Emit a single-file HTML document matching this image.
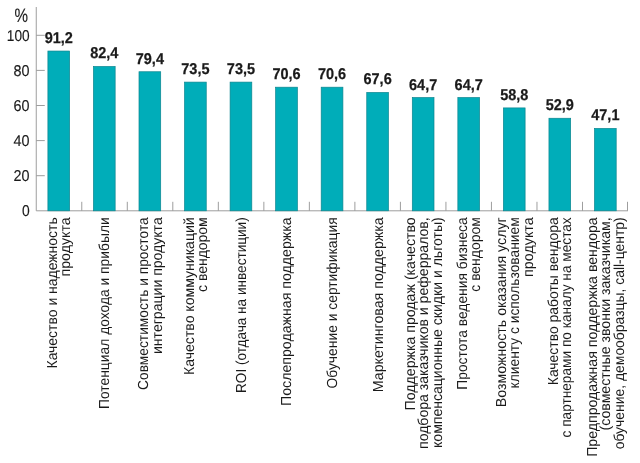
<!DOCTYPE html><html><head><meta charset="utf-8"><style>html,body{margin:0;padding:0;background:#fff}svg{display:block;will-change:transform}text{font-family:"Liberation Sans",sans-serif;fill:#1a1a1a;text-rendering:geometricPrecision}</style></head><body>
<svg width="640" height="463" viewBox="0 0 640 463">
<rect width="640" height="463" fill="#fff"/>
<g stroke="#999" stroke-width="0.95" fill="none">
<path d="M36.25 7V210.8H627.9"/>
<path d="M36.25 175.70h8.5"/>
<path d="M36.25 140.60h8.5"/>
<path d="M36.25 105.50h8.5"/>
<path d="M36.25 70.40h8.5"/>
<path d="M36.25 35.30h8.5"/>
<path d="M81.77 210.8v-9"/>
<path d="M127.29 210.8v-9"/>
<path d="M172.81 210.8v-9"/>
<path d="M218.33 210.8v-9"/>
<path d="M263.85 210.8v-9"/>
<path d="M309.37 210.8v-9"/>
<path d="M354.89 210.8v-9"/>
<path d="M400.41 210.8v-9"/>
<path d="M445.93 210.8v-9"/>
<path d="M491.45 210.8v-9"/>
<path d="M536.97 210.8v-9"/>
<path d="M582.49 210.8v-9"/>
<path d="M627.50 210.8v-9"/>
</g>
<g font-size="15.6" text-anchor="end" stroke="#1a1a1a" stroke-width="0.15">
<text x="29.6" y="216.10" textLength="7.7" lengthAdjust="spacingAndGlyphs">0</text>
<text x="29.6" y="181.00" textLength="16.0" lengthAdjust="spacingAndGlyphs">20</text>
<text x="29.6" y="145.90" textLength="16.0" lengthAdjust="spacingAndGlyphs">40</text>
<text x="29.6" y="110.80" textLength="16.0" lengthAdjust="spacingAndGlyphs">60</text>
<text x="29.6" y="75.70" textLength="16.0" lengthAdjust="spacingAndGlyphs">80</text>
<text x="29.6" y="40.60" textLength="22.8" lengthAdjust="spacingAndGlyphs">100</text>
<text x="28.1" y="21.6" font-size="19.4" textLength="13.5" lengthAdjust="spacingAndGlyphs">%</text>
</g>
<rect x="47.90" y="51.04" width="21.7" height="159.76" fill="#00adb9" stroke="#0b858f" stroke-width="0.7"/>
<text x="58.75" y="43.04" font-size="15.6" font-weight="bold" text-anchor="middle" textLength="28.2" lengthAdjust="spacingAndGlyphs" stroke="#1a1a1a" stroke-width="0.25">91,2</text>
<rect x="93.45" y="66.49" width="21.7" height="144.31" fill="#00adb9" stroke="#0b858f" stroke-width="0.7"/>
<text x="104.30" y="58.49" font-size="15.6" font-weight="bold" text-anchor="middle" textLength="28.2" lengthAdjust="spacingAndGlyphs" stroke="#1a1a1a" stroke-width="0.25">82,4</text>
<rect x="139.00" y="71.75" width="21.7" height="139.05" fill="#00adb9" stroke="#0b858f" stroke-width="0.7"/>
<text x="149.85" y="63.75" font-size="15.6" font-weight="bold" text-anchor="middle" textLength="28.2" lengthAdjust="spacingAndGlyphs" stroke="#1a1a1a" stroke-width="0.25">79,4</text>
<rect x="184.55" y="82.11" width="21.7" height="128.69" fill="#00adb9" stroke="#0b858f" stroke-width="0.7"/>
<text x="195.40" y="74.11" font-size="15.6" font-weight="bold" text-anchor="middle" textLength="28.2" lengthAdjust="spacingAndGlyphs" stroke="#1a1a1a" stroke-width="0.25">73,5</text>
<rect x="230.10" y="82.11" width="21.7" height="128.69" fill="#00adb9" stroke="#0b858f" stroke-width="0.7"/>
<text x="240.95" y="74.11" font-size="15.6" font-weight="bold" text-anchor="middle" textLength="28.2" lengthAdjust="spacingAndGlyphs" stroke="#1a1a1a" stroke-width="0.25">73,5</text>
<rect x="275.65" y="87.20" width="21.7" height="123.60" fill="#00adb9" stroke="#0b858f" stroke-width="0.7"/>
<text x="286.50" y="79.20" font-size="15.6" font-weight="bold" text-anchor="middle" textLength="28.2" lengthAdjust="spacingAndGlyphs" stroke="#1a1a1a" stroke-width="0.25">70,6</text>
<rect x="321.20" y="87.20" width="21.7" height="123.60" fill="#00adb9" stroke="#0b858f" stroke-width="0.7"/>
<text x="332.05" y="79.20" font-size="15.6" font-weight="bold" text-anchor="middle" textLength="28.2" lengthAdjust="spacingAndGlyphs" stroke="#1a1a1a" stroke-width="0.25">70,6</text>
<rect x="366.75" y="92.46" width="21.7" height="118.34" fill="#00adb9" stroke="#0b858f" stroke-width="0.7"/>
<text x="377.60" y="84.46" font-size="15.6" font-weight="bold" text-anchor="middle" textLength="28.2" lengthAdjust="spacingAndGlyphs" stroke="#1a1a1a" stroke-width="0.25">67,6</text>
<rect x="412.30" y="97.55" width="21.7" height="113.25" fill="#00adb9" stroke="#0b858f" stroke-width="0.7"/>
<text x="423.15" y="89.55" font-size="15.6" font-weight="bold" text-anchor="middle" textLength="28.2" lengthAdjust="spacingAndGlyphs" stroke="#1a1a1a" stroke-width="0.25">64,7</text>
<rect x="457.85" y="97.55" width="21.7" height="113.25" fill="#00adb9" stroke="#0b858f" stroke-width="0.7"/>
<text x="468.70" y="89.55" font-size="15.6" font-weight="bold" text-anchor="middle" textLength="28.2" lengthAdjust="spacingAndGlyphs" stroke="#1a1a1a" stroke-width="0.25">64,7</text>
<rect x="503.40" y="107.91" width="21.7" height="102.89" fill="#00adb9" stroke="#0b858f" stroke-width="0.7"/>
<text x="514.25" y="99.91" font-size="15.6" font-weight="bold" text-anchor="middle" textLength="28.2" lengthAdjust="spacingAndGlyphs" stroke="#1a1a1a" stroke-width="0.25">58,8</text>
<rect x="548.95" y="118.26" width="21.7" height="92.54" fill="#00adb9" stroke="#0b858f" stroke-width="0.7"/>
<text x="559.80" y="110.26" font-size="15.6" font-weight="bold" text-anchor="middle" textLength="28.2" lengthAdjust="spacingAndGlyphs" stroke="#1a1a1a" stroke-width="0.25">52,9</text>
<rect x="594.50" y="128.44" width="21.7" height="82.36" fill="#00adb9" stroke="#0b858f" stroke-width="0.7"/>
<text x="605.35" y="120.44" font-size="15.6" font-weight="bold" text-anchor="middle" textLength="28.2" lengthAdjust="spacingAndGlyphs" stroke="#1a1a1a" stroke-width="0.25">47,1</text>
<text transform="translate(56.90 217.3) rotate(-90)" font-size="14.5" text-anchor="end" textLength="151.20" lengthAdjust="spacingAndGlyphs">Качество и надежность</text>
<text transform="translate(70.40 217.3) rotate(-90)" font-size="14.5" text-anchor="end" textLength="59.20" lengthAdjust="spacingAndGlyphs">продукта</text>
<text transform="translate(109.20 217.3) rotate(-90)" font-size="14.5" text-anchor="end" textLength="191.70" lengthAdjust="spacingAndGlyphs">Потенциал дохода и прибыли</text>
<text transform="translate(148.00 217.3) rotate(-90)" font-size="14.5" text-anchor="end" textLength="172.70" lengthAdjust="spacingAndGlyphs">Совместимость и простота</text>
<text transform="translate(161.50 217.3) rotate(-90)" font-size="14.5" text-anchor="end" textLength="136.70" lengthAdjust="spacingAndGlyphs">интеграции продукта</text>
<text transform="translate(193.55 217.3) rotate(-90)" font-size="14.5" text-anchor="end" textLength="157.70" lengthAdjust="spacingAndGlyphs">Качество коммуникаций</text>
<text transform="translate(207.05 217.3) rotate(-90)" font-size="14.5" text-anchor="end" textLength="74.70" lengthAdjust="spacingAndGlyphs">с вендором</text>
<text transform="translate(245.85 217.3) rotate(-90)" font-size="14.5" text-anchor="end" textLength="175.70" lengthAdjust="spacingAndGlyphs">ROI (отдача на инвестиции)</text>
<text transform="translate(291.40 217.3) rotate(-90)" font-size="14.5" text-anchor="end" textLength="188.70" lengthAdjust="spacingAndGlyphs">Послепродажная поддержка</text>
<text transform="translate(336.95 217.3) rotate(-90)" font-size="14.5" text-anchor="end" textLength="171.20" lengthAdjust="spacingAndGlyphs">Обучение и сертификация</text>
<text transform="translate(382.50 217.3) rotate(-90)" font-size="14.5" text-anchor="end" textLength="174.95" lengthAdjust="spacingAndGlyphs">Маркетинговая поддержка</text>
<text transform="translate(414.55 217.3) rotate(-90)" font-size="14.5" text-anchor="end" textLength="193.20" lengthAdjust="spacingAndGlyphs">Поддержка продаж (качество</text>
<text transform="translate(428.05 217.3) rotate(-90)" font-size="14.5" text-anchor="end" textLength="231.70" lengthAdjust="spacingAndGlyphs">подбора заказчиков и реферралов,</text>
<text transform="translate(441.55 217.3) rotate(-90)" font-size="14.5" text-anchor="end" textLength="230.70" lengthAdjust="spacingAndGlyphs">компенсационные скидки и льготы)</text>
<text transform="translate(466.85 217.3) rotate(-90)" font-size="14.5" text-anchor="end" textLength="172.45" lengthAdjust="spacingAndGlyphs">Простота ведения бизнеса</text>
<text transform="translate(480.35 217.3) rotate(-90)" font-size="14.5" text-anchor="end" textLength="74.40" lengthAdjust="spacingAndGlyphs">с вендором</text>
<text transform="translate(505.65 217.3) rotate(-90)" font-size="14.5" text-anchor="end" textLength="189.95" lengthAdjust="spacingAndGlyphs">Возможность оказания услуг</text>
<text transform="translate(519.15 217.3) rotate(-90)" font-size="14.5" text-anchor="end" textLength="171.20" lengthAdjust="spacingAndGlyphs">клиенту с использованием</text>
<text transform="translate(532.65 217.3) rotate(-90)" font-size="14.5" text-anchor="end" textLength="59.70" lengthAdjust="spacingAndGlyphs">продукта</text>
<text transform="translate(557.95 217.3) rotate(-90)" font-size="14.5" text-anchor="end" textLength="167.90" lengthAdjust="spacingAndGlyphs">Качество работы вендора</text>
<text transform="translate(571.45 217.3) rotate(-90)" font-size="14.5" text-anchor="end" textLength="220.20" lengthAdjust="spacingAndGlyphs">с партнерами по каналу на местах</text>
<text transform="translate(596.75 217.3) rotate(-90)" font-size="14.5" text-anchor="end" textLength="239.50" lengthAdjust="spacingAndGlyphs">Предпродажная поддержка вендора</text>
<text transform="translate(610.25 217.3) rotate(-90)" font-size="14.5" text-anchor="end" textLength="213.20" lengthAdjust="spacingAndGlyphs">(совместные звонки заказчикам,</text>
<text transform="translate(623.75 217.3) rotate(-90)" font-size="14.5" text-anchor="end" textLength="232.00" lengthAdjust="spacingAndGlyphs">обучение, демообразцы, call-центр)</text>
</svg></body></html>
